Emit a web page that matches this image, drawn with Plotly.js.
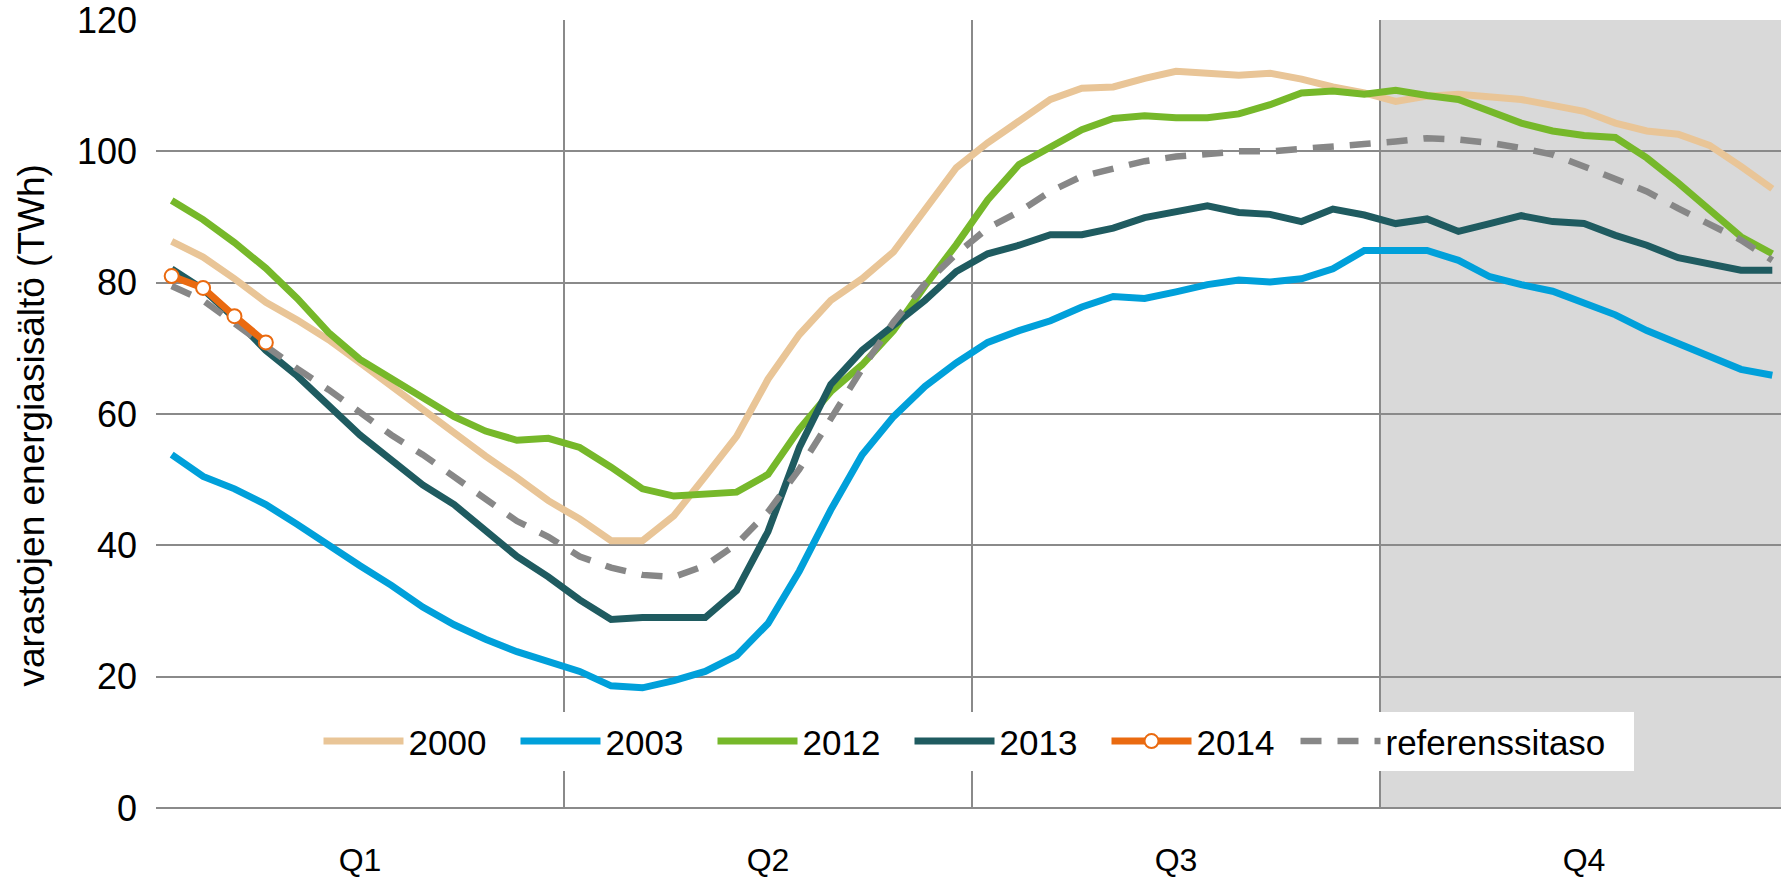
<!DOCTYPE html>
<html>
<head>
<meta charset="utf-8">
<script src="https://cdn.plot.ly/plotly-3.0.1.min.js"></script>
<style>
  html, body { margin: 0; padding: 0; background: #fff; }
  #chart { width: 1781px; height: 879px; }
</style>
</head>
<body>
<div id="chart"></div>
<script>
// week index within the year (13 weeks per quarter)
const weeks = [
    1, 2, 3, 4, 5, 6, 7, 8, 9, 10, 11, 12, 13,
    14, 15, 16, 17, 18, 19, 20, 21, 22, 23, 24, 25, 26,
    27, 28, 29, 30, 31, 32, 33, 34, 35, 36, 37, 38, 39,
    40, 41, 42, 43, 44, 45, 46, 47, 48, 49, 50, 51, 52,
];
const quarterLabels = ['Q1', 'Q2', 'Q3', 'Q4'];
const quarterCenters = [7, 20, 33, 46];
const quarterBounds = [13.5, 26.5, 39.5];
const yTicks = [0, 20, 40, 60, 80, 100, 120];
const yTitle = 'varastojen energiasisältö (TWh)';

const y2000 = [
    86.3, 83.9, 80.6, 77.0, 74.3, 71.3, 67.8, 64.2, 60.7, 57.1, 53.6, 50.3, 46.8,
    44.0, 40.7, 40.7, 44.5, 50.5, 56.6, 65.3, 72.1, 77.3, 80.6, 84.7, 91.0, 97.5,
    101.3, 104.6, 107.9, 109.6, 109.8, 111.1, 112.2, 111.9, 111.6, 111.9, 111.0, 109.8, 108.9,
    107.6, 108.4, 108.7, 108.3, 107.9, 107.0, 106.1, 104.3, 103.1, 102.6, 100.9, 97.7, 94.3,
];
const y2003 = [
    53.8, 50.5, 48.6, 46.2, 43.2, 39.9, 36.9, 33.9, 30.6, 27.9, 25.7, 23.8, 22.4,
    20.8, 18.6, 18.3, 19.4, 20.8, 23.2, 28.1, 36.1, 45.4, 53.8, 59.6, 64.2, 67.8,
    70.9, 72.7, 74.2, 76.3, 77.9, 77.6, 78.6, 79.7, 80.4, 80.1, 80.6, 82.1, 84.9,
    84.9, 84.9, 83.4, 80.9, 79.7, 78.7, 76.9, 75.1, 72.7, 70.7, 68.8, 66.8, 65.9,
];
const y2012 = [
    92.5, 89.6, 86.1, 82.2, 77.6, 72.4, 68.3, 65.3, 62.6, 59.6, 57.4, 56.0, 56.3,
    54.9, 51.9, 48.6, 47.5, 47.8, 48.1, 50.8, 57.7, 63.4, 67.5, 72.7, 79.5, 85.8,
    92.6, 98.0, 100.5, 103.3, 105.0, 105.4, 105.1, 105.1, 105.7, 107.1, 108.9, 109.2, 108.7,
    109.3, 108.5, 107.9, 106.1, 104.3, 103.1, 102.4, 102.1, 99.0, 95.2, 91.1, 87.0, 84.4,
];
const y2013 = [
    82.1, 79.0, 74.6, 69.7, 65.8, 61.2, 56.8, 53.0, 49.2, 46.2, 42.1, 38.3, 35.2,
    31.7, 28.7, 29.0, 29.0, 29.0, 33.1, 42.1, 54.9, 64.5, 69.7, 73.5, 77.3, 81.7,
    84.4, 85.7, 87.3, 87.3, 88.3, 89.9, 90.8, 91.7, 90.7, 90.4, 89.3, 91.2, 90.3,
    89.0, 89.7, 87.8, 89.0, 90.2, 89.3, 89.0, 87.2, 85.7, 83.8, 82.9, 81.9, 81.9,
];
const y2014 = [81.0, 79.2, 74.9, 70.9];
const yReference = [
    79.5, 77.3, 73.8, 70.2, 66.9, 63.7, 60.1, 56.8, 53.8, 50.5, 47.3, 43.7, 41.3,
    38.3, 36.6, 35.5, 35.2, 36.9, 40.2, 45.1, 51.6, 59.3, 66.9, 74.0, 79.8, 84.4,
    88.3, 90.8, 93.9, 96.2, 97.4, 98.5, 99.2, 99.7, 100.0, 100.0, 100.3, 100.8, 101.1,
    101.5, 102.0, 101.8, 101.3, 100.5, 99.5, 97.7, 95.9, 93.9, 91.3, 89.0, 86.5, 83.4,
];

const FONT = '"Liberation Sans", Arial, sans-serif';
const GRID = '#8a8a8a';
const ORANGE = '#ea6a10';

function yearLine(name, y, color, rank) {
    return {
        type: 'scatter',
        mode: 'lines',
        name,
        x: weeks.slice(0, y.length),
        y,
        legendrank: rank,
        legendwidth: 102,
        hoverinfo: 'skip',
        line: { color, width: 7 },
    };
}

const traces = [
    yearLine('2000', y2000, '#e9c597', 1),
    yearLine('2003', y2003, '#00a0da', 2),
    yearLine('2012', y2012, '#76b82a', 3),
    yearLine('2013', y2013, '#1f5b60', 4),
    {
        ...yearLine('referenssitaso', yReference, '#878787', 6),
        line: { color: '#878787', width: 6.5, dash: '21px,16px' },
        legendwidth: 243,
    },
    {
        ...yearLine('2014', y2014, ORANGE, 5),
        mode: 'lines+markers',
        marker: { symbol: 'circle', size: 14, color: '#ffffff', line: { color: ORANGE, width: 2 } },
        legendwidth: 94,
    },
];

const layout = {
    width: 1781,
    height: 879,
    margin: { l: 156, r: 0, t: 20, b: 71 },
    paper_bgcolor: '#ffffff',
    plot_bgcolor: '#ffffff',
    font: { family: FONT, size: 35, color: '#000000' },
    xaxis: {
        range: [0.5, 52.277],
        tickmode: 'array',
        tickvals: quarterCenters,
        ticktext: quarterLabels,
        showgrid: false,
        zeroline: false,
        showline: false,
        ticks: '',
        ticklabelstandoff: 30,
        tickfont: { family: FONT, size: 32 },
        minor: {
            tickmode: 'array',
            tickvals: quarterBounds,
            showgrid: true,
            gridcolor: GRID,
            gridwidth: 1.75,
            ticks: '',
        },
    },
    yaxis: {
        range: [0, 120],
        tickmode: 'array',
        tickvals: yTicks,
        showgrid: true,
        gridcolor: GRID,
        gridwidth: 1.75,
        zeroline: true,
        zerolinecolor: GRID,
        zerolinewidth: 1.75,
        showline: false,
        ticks: '',
        ticklabelstandoff: 18,
        ticklabeloverflow: 'allow',
        tickfont: { family: FONT, size: 36 },
    },
    annotations: [{
        text: yTitle,
        xref: 'paper',
        yref: 'paper',
        x: -0.0766,
        y: 0.4848,
        xanchor: 'center',
        yanchor: 'middle',
        textangle: -90,
        showarrow: false,
        font: { family: FONT, size: 37, color: '#000000' },
    }],
    shapes: [{
        type: 'rect',
        xref: 'x',
        yref: 'y',
        x0: quarterBounds[2],
        x1: 53,
        y0: 0,
        y1: 120,
        fillcolor: '#d9d9d9',
        line: { width: 0 },
        layer: 'below',
    }],
    showlegend: true,
    legend: {
        orientation: 'h',
        x: 0.100,
        xanchor: 'left',
        y: 0.122,
        yanchor: 'top',
        bgcolor: '#ffffff',
        borderwidth: 0,
        font: { family: FONT, size: 35, color: '#000000' },
        itemwidth: 80,
        entrywidthmode: 'pixels',
        traceorder: 'normal',
    },
};

Plotly.newPlot('chart', traces, layout, { displayModeBar: false, staticPlot: true });
</script>
</body>
</html>
